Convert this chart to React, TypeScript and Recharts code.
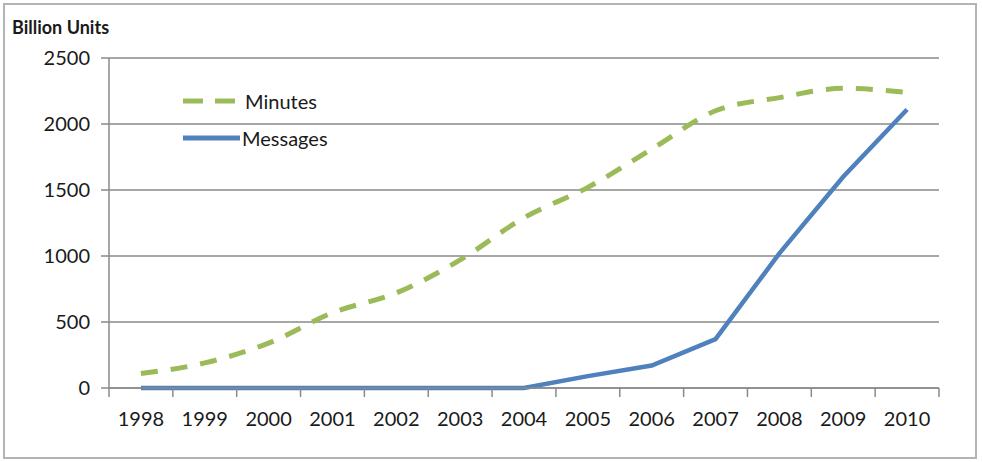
import { CartesianGrid, Legend, Line, LineChart, XAxis, YAxis } from 'recharts';

const years = [1998, 1999, 2000, 2001, 2002, 2003, 2004, 2005, 2006, 2007, 2008, 2009, 2010];
const minutes = [110, 190, 340, 570, 720, 970, 1290, 1520, 1810, 2100, 2200, 2270, 2240];
const messages = [0, 0, 0, 0, 0, 0, 0, 90, 170, 370, 1020, 1600, 2110];
const yTicks = [0, 500, 1000, 1500, 2000, 2500];

const FONT = "Lato, 'Liberation Sans', sans-serif";
const GRID = '#8a8a8a';
const GREEN = '#9bbb59';
const BLUE = '#4f81bd';
const PLOT_LEFT = 109;
const PLOT_RIGHT = 939;
const HALF_BAND = (PLOT_RIGHT - PLOT_LEFT) / years.length / 2;

const data = years.map((year, i) => ({ year, Minutes: minutes[i], Messages: messages[i] }));

function YearTick(props: any) {
  const { x, y, payload, index } = props;
  return (
    <g>
      {index === 0 && <line x1={x - HALF_BAND} x2={x - HALF_BAND} y1={y} y2={y + 9} stroke={GRID} strokeWidth={1.5} />}
      <line x1={x + HALF_BAND} x2={x + HALF_BAND} y1={y} y2={y + 9} stroke={GRID} strokeWidth={1.5} />
      <text x={x} y={y + 30} textAnchor="middle" dominantBaseline="central" fill="#1a1a1a" fontSize={20} fontFamily={FONT}>
        {payload.value}
      </text>
    </g>
  );
}

function LegendBox() {
  return (
    <div style={{ fontFamily: FONT, fontSize: 20, color: '#1a1a1a' }}>
      <div style={{ display: 'flex', alignItems: 'center', height: 26 }}>
        <svg width={62} height={10}>
          <line x1={0} x2={52} y1={5} y2={5} stroke={GREEN} strokeWidth={5} strokeDasharray="20 12" />
        </svg>
        <span>Minutes</span>
      </div>
      <div style={{ display: 'flex', alignItems: 'center', height: 26, marginTop: 11 }}>
        <svg width={59} height={10}>
          <line x1={0} x2={57} y1={5} y2={5} stroke={BLUE} strokeWidth={5} />
        </svg>
        <span>Messages</span>
      </div>
    </div>
  );
}

export default function App() {
  return (
    <div style={{ position: 'absolute', left: 0, top: 0, width: 982, height: 462, background: '#fff' }}>
      <div
        style={{
          position: 'absolute',
          left: 3,
          top: 3,
          width: 970,
          height: 452,
          border: '2px solid #b4b4b4',
        }}
      />
      <div
        style={{
          position: 'absolute',
          left: 12,
          top: 16,
          fontFamily: FONT,
          fontWeight: 'bold',
          fontSize: 18,
          color: '#1a1a1a',
        }}
      >
        Billion Units
      </div>
      <LineChart
        width={982}
        height={462}
        data={data}
        margin={{ top: 58, right: 982 - PLOT_RIGHT, bottom: 34, left: 0 }}
        style={{ position: 'absolute', left: 0, top: 0 }}
      >
        <CartesianGrid vertical={false} stroke={GRID} strokeWidth={1.5} />
        <XAxis
          dataKey="year"
          type="number"
          domain={[1997.5, 2010.5]}
          ticks={years}
          interval={0}
          height={40}
          tickSize={0}
          tickMargin={0}
          tickLine={false}
          axisLine={{ stroke: GRID, strokeWidth: 1.5 }}
          tick={<YearTick />}
        />
        <YAxis
          width={PLOT_LEFT}
          domain={[0, 2500]}
          ticks={yTicks}
          interval={0}
          tickSize={8}
          tickMargin={11}
          tickLine={{ stroke: GRID, strokeWidth: 1.5 }}
          axisLine={{ stroke: GRID, strokeWidth: 1.5 }}
          tick={{ fill: '#1a1a1a', fontSize: 20, fontFamily: FONT }}
        />
        <Legend
          layout="vertical"
          align="center"
          verticalAlign="middle"
          content={<LegendBox />}
          wrapperStyle={{ top: 88, left: 183, width: 'auto' }}
        />
        <Line
          type="monotone"
          dataKey="Minutes"
          stroke={GREEN}
          strokeWidth={5}
          strokeDasharray="17 13"
          dot={false}
          isAnimationActive={false}
        />
        <Line
          type="linear"
          dataKey="Messages"
          stroke={BLUE}
          strokeWidth={4.5}
          dot={false}
          isAnimationActive={false}
        />
      </LineChart>
    </div>
  );
}
